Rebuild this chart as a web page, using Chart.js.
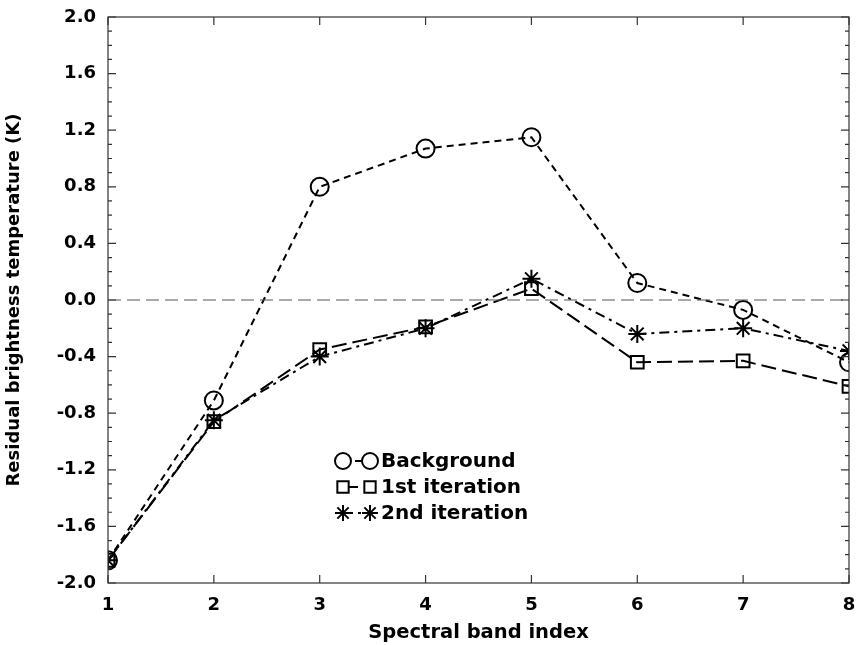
<!DOCTYPE html>
<html>
<head>
<meta charset="utf-8">
<script src="https://cdn.jsdelivr.net/npm/chart.js@4.4.1/dist/chart.umd.min.js"></script>
<style>
  html, body { margin: 0; padding: 0; background: #fff; }
  #wrap { width: 860px; height: 645px; }
</style>
</head>
<body>
<div id="wrap"><canvas id="grafico"></canvas></div>
<script>
// datos
const bands = [1, 2, 3, 4, 5, 6, 7, 8];
const background = [-1.84, -0.71, 0.80, 1.07, 1.15, 0.12, -0.07, -0.44];
const firstIter = [-1.84, -0.86, -0.35, -0.19, 0.08, -0.44, -0.43, -0.61];
const secondIter = [-1.84, -0.85, -0.40, -0.20, 0.15, -0.24, -0.20, -0.36];
const seriesNames = ['Background', '1st iteration', '2nd iteration'];

const FONT = "'DejaVu Sans', 'Liberation Sans', sans-serif";

function toPoints(vals) {
  return vals.map((v, i) => ({ x: bands[i], y: v }));
}

// ejes tipo caja con marcas hacia dentro, linea de cero y leyenda interna
const boxPlugin = {
  id: 'boxPlugin',
  afterDatasetsDraw(chart) {
    const c = chart.ctx;
    const a = chart.chartArea;
    const xs = chart.scales.x;
    const ys = chart.scales.y;
    c.save();
    // linea de cero
    c.strokeStyle = '#555';
    c.lineWidth = 1;
    c.setLineDash([13, 6]);
    const y0 = ys.getPixelForValue(0);
    c.beginPath();
    c.moveTo(a.left, y0);
    c.lineTo(a.right, y0);
    c.stroke();
    c.setLineDash([]);
    // marco
    c.strokeStyle = '#333';
    c.lineWidth = 1.2;
    c.strokeRect(a.left, a.top, a.right - a.left, a.bottom - a.top);
    // marcas y
    ys.ticks.forEach(t => {
      const p = ys.getPixelForValue(t.value);
      const major = Math.round(t.value * 10) % 4 === 0;
      const len = major ? 8 : 4;
      c.beginPath();
      c.moveTo(a.left, p); c.lineTo(a.left + len, p);
      c.moveTo(a.right, p); c.lineTo(a.right - len, p);
      c.stroke();
    });
    // marcas x
    xs.ticks.forEach(t => {
      const p = xs.getPixelForValue(t.value);
      c.beginPath();
      c.moveTo(p, a.bottom); c.lineTo(p, a.bottom - 8);
      c.moveTo(p, a.top); c.lineTo(p, a.top + 8);
      c.stroke();
    });
    // leyenda
    const lx = a.left + 235;
    const ly = a.top + 444;
    chart.data.datasets.forEach((ds, i) => {
      const yy = ly + i * 26;
      c.strokeStyle = '#000';
      c.lineWidth = 2;
      c.setLineDash(ds.borderDash);
      c.beginPath();
      c.moveTo(lx, yy); c.lineTo(lx + 27, yy);
      c.stroke();
      c.setLineDash([]);
      c.fillStyle = '#fff';
      const opts = { pointStyle: ds.pointStyle, radius: 8, borderWidth: 2, rotation: 0 };
      Chart.helpers.drawPoint(c, opts, lx, yy);
      Chart.helpers.drawPoint(c, opts, lx + 27, yy);
      c.fillStyle = '#000';
      c.font = 'bold 20px ' + FONT;
      c.textBaseline = 'middle';
      c.fillText(ds.label, lx + 38, yy + 1);
    });
    c.restore();
  }
};

const ctx = document.getElementById('grafico');

new Chart(ctx, {
  type: 'line',
  data: {
    datasets: [{
      label: seriesNames[0],
      data: toPoints(background),
      borderColor: '#000',
      borderWidth: 2,
      borderDash: [7, 5],
      pointStyle: 'circle',
      pointRadius: 9,
      pointBorderWidth: 2,
      pointBorderColor: '#000',
      pointBackgroundColor: 'rgba(255,255,255,0)'
    }, {
      label: seriesNames[1],
      data: toPoints(firstIter),
      borderColor: '#000',
      borderWidth: 2,
      borderDash: [15, 6],
      pointStyle: 'rect',
      pointRadius: 9,
      pointBorderWidth: 2,
      pointBorderColor: '#000',
      pointBackgroundColor: 'rgba(255,255,255,0)'
    }, {
      label: seriesNames[2],
      data: toPoints(secondIter),
      borderColor: '#000',
      borderWidth: 2,
      borderDash: [10, 5, 3, 5],
      pointStyle: 'star',
      pointRadius: 9,
      pointBorderWidth: 2,
      pointBorderColor: '#000',
      pointBackgroundColor: 'rgba(255,255,255,0)'
    }]
  },
  options: {
    responsive: true,
    maintainAspectRatio: false,
    animation: false,
    layout: { padding: { top: 17, right: 2, left: 0, bottom: 0 } },
    plugins: {
      legend: { display: false },
      tooltip: { enabled: false }
    },
    scales: {
      x: {
        type: 'linear',
        min: 1,
        max: 8,
        grid: { display: false },
        border: { display: false },
        ticks: {
          stepSize: 1,
          padding: 4,
          color: '#000',
          font: { family: FONT, size: 18, weight: 'bold' }
        },
        title: {
          display: true,
          text: 'Spectral band index',
          color: '#000',
          padding: { top: 0, bottom: 0 },
          font: { family: FONT, size: 19.5, weight: 'bold' }
        },
        afterFit(scale) { scale.height = 62; }
      },
      y: {
        min: -2,
        max: 2,
        grid: { display: false },
        border: { display: false },
        ticks: {
          stepSize: 0.1,
          autoSkip: false,
          maxTicksLimit: 100,
          padding: 4,
          color: '#000',
          font: { family: FONT, size: 18, weight: 'bold' },
          callback(v) {
            return Math.round(v * 10) % 4 === 0 ? (Math.abs(v) < 1e-9 ? '0.0' : v.toFixed(1)) : '';
          }
        },
        title: {
          display: true,
          text: 'Residual brightness temperature (K)',
          color: '#000',
          padding: { top: 4, bottom: 0 },
          font: { family: FONT, size: 18, weight: 'bold' }
        },
        afterFit(scale) { scale.width = 108; }
      }
    }
  },
  plugins: [boxPlugin]
});
</script>
</body>
</html>
